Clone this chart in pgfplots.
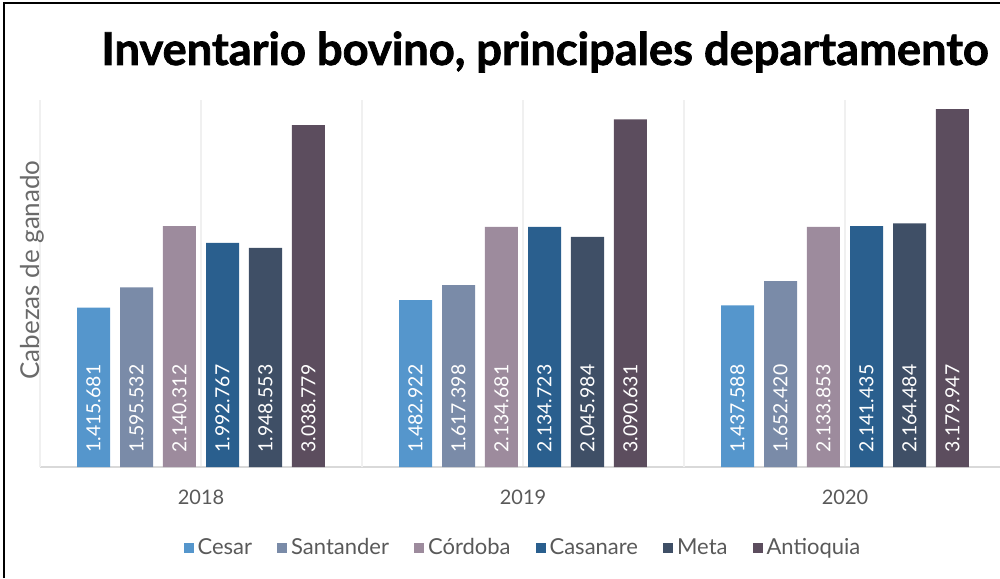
\documentclass[border=0pt]{standalone}
\usepackage{fontspec}
\setmainfont{Lato}
\newfontfamily\titlefont{Lato}[BoldFeatures={FakeBold=1.6}]
\usepackage{pgfplots}
\pgfplotsset{compat=1.18}
\definecolor{cCesar}{HTML}{5596CC}
\definecolor{cSantander}{HTML}{7A8BA8}
\definecolor{cCordoba}{HTML}{9D8B9D}
\definecolor{cCasanare}{HTML}{2A5F8E}
\definecolor{cMeta}{HTML}{3F4F66}
\definecolor{cAntioquia}{HTML}{5C4D5E}
\definecolor{tickgray}{HTML}{595959}
\definecolor{labgray}{HTML}{6A6A6A}
\begin{document}
\begin{tikzpicture}
\useasboundingbox (0pt,0pt) rectangle (500pt,289pt);
\begin{scope}
\clip (0pt,0pt) rectangle (500pt,289pt);
\begin{axis}[
  at={(20pt,55.5pt)}, anchor=south west,
  scale only axis, width=483pt, height=183.5pt,
  xmin=-0.5, xmax=2.5, ymin=0, ymax=3262000,
  ybar,
  axis x line*=bottom, axis y line*=left,
  y axis line style={draw=none},
  x axis line style={draw=black!15, line width=0.8pt},
  xtick={0,1,2}, xticklabels={2018,2019,2020},
  major tick length=0pt,
  extra x ticks={-0.5,0.5,1.5,2.5}, extra x tick labels={},
  extra x tick style={grid=major, major tick length=0pt},
  xmajorgrids, grid style={draw=black!6, line width=0.6pt},
  ytick=\empty,
  xticklabel style={font=\fontsize{10}{12}\selectfont, text=tickgray, yshift=-8pt},
  ylabel={Cabezas de ganado},
  ylabel style={at={(axis description cs:-0.0083,0.537)}, anchor=center, font=\fontsize{13}{15}\selectfont, text=labgray},
  legend style={at={(axis description cs:0.501,-0.2207)}, anchor=center, draw=none, fill=none,
    legend columns=6, font=\fontsize{11}{13}\selectfont, text=tickgray,
    /tikz/every even column/.append style={column sep=10.5pt}},
  legend image code/.code={\fill[#1] (0pt,-2.5pt) rectangle (5pt,2.5pt);},
  visualization depends on={y \as \rawy},
  nodes near coords={\pgfmathprintnumber[fixed,precision=0,1000 sep={.},assume math mode=true]{\pgfplotspointmeta}},
  nodes near coords style={shift={(axis direction cs:0,-\rawy)}, yshift=7pt, rotate=90, anchor=west,
    inner sep=0pt, text=white, font=\fontsize{9.7}{11}\selectfont},
]
\addplot[fill=cCesar, draw=none, bar width=0.1025, bar shift=-0.3338] coordinates {(0,1415681) (1,1482922) (2,1437588)};
\addplot[fill=cSantander, draw=none, bar width=0.1025, bar shift=-0.2003] coordinates {(0,1595532) (1,1617398) (2,1652420)};
\addplot[fill=cCordoba, draw=none, bar width=0.1025, bar shift=-0.0668] coordinates {(0,2140312) (1,2134681) (2,2133853)};
\addplot[fill=cCasanare, draw=none, bar width=0.1025, bar shift=0.0668] coordinates {(0,1992767) (1,2134723) (2,2141435)};
\addplot[fill=cMeta, draw=none, bar width=0.1025, bar shift=0.2003] coordinates {(0,1948553) (1,2045984) (2,2164484)};
\addplot[fill=cAntioquia, draw=none, bar width=0.1025, bar shift=0.3338] coordinates {(0,3038779) (1,3090631) (2,3179947)};
\legend{Cesar,Santander,Córdoba,Casanare,Meta,Antioquia}
\end{axis}
\node[anchor=base, inner sep=0pt] at (545pt*0.5,256.5pt) {\titlefont\fontsize{22.6}{26}\selectfont\bfseries Inventario bovino, principales departamento};
\draw[line width=1.2pt] (2pt,0pt) -- (2pt,287.5pt) -- (500pt,287.5pt);
\end{scope}
\end{tikzpicture}
\end{document}
